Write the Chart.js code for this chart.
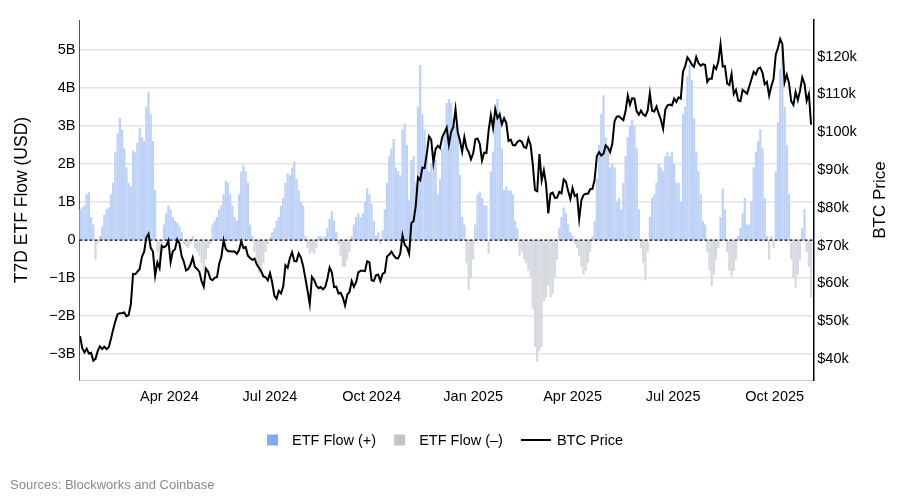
<!DOCTYPE html>
<html>
<head>
<meta charset="utf-8">
<script src="https://cdn.jsdelivr.net/npm/chart.js@4.4.1/dist/chart.umd.min.js"></script>
<style>
  html, body { margin: 0; background: #fff; }
  #wrap { width: 900px; height: 500px; }
</style>
</head>
<body>
<div id="wrap"><canvas id="etfChart" width="900" height="500"></canvas></div>
<script>
// ===== DATA =====
// one value every 2 days, starting 2024-01-11
const startDate = '2024-01-11';
const stepDays = 2;

// trailing 7-day spot BTC ETF net flow, billions USD
const flowB = [
  0.8, 0.85, 0.9, 1.2, 1.25, 0.6, 0.4, -0.5, -0.1, 0.1,
  0.35, 0.65, 0.8, 0.85, 1.2, 1.5, 2.3, 2.8, 3.2, 2.9,
  2.4, 1.9, 1.5, 1.4, 2.35, 2.3, 2.55, 2.95, 2.7, 2.6,
  3.5, 3.9, 3.3, 2.6, 1.3, -0.3, -0.6, -0.3, 0.4, 0.7,
  0.9, 0.8, 0.6, 0.5, 0.45, 0.35, 0.2, -0.1, -0.15, -0.2,
  -0.1, 0.1, -0.2, -0.3, -0.4, -0.6, -0.8, -0.5, -0.2, -0.1,
  0.4, 0.5, 0.6, 0.8, 0.9, 1.2, 1.55, 1.5, 1.2, 0.9,
  0.6, 0.5, 1.2, 1.8, 1.95, 1.8, 1.5, 0.4, 0.1, -0.3,
  -0.6, -0.85, -0.88, -0.6, -0.3, -0.1, 0.05, 0.2, 0.3, 0.5,
  0.6, 0.9, 1.1, 1.5, 1.75, 1.7, 1.9, 2.05, 1.6, 1.3,
  1.0, 0.9, 0.1, -0.2, -0.35, -0.3, -0.35, -0.2, 0.1, 0.1,
  0.05, 0.1, 0.3, 0.55, 0.75, 0.5, 0.2, -0.1, -0.4, -0.7,
  -0.7, -0.5, -0.3, 0.1, 0.4, 0.6, 0.7, 0.6, 0.7, 1.0,
  1.35, 1.2, 0.95, 0.5, 0.1, 0.2, -0.1, 0.25, 0.8, 1.5,
  2.2, 2.4, 2.65, 1.9, 1.8, 1.7, 2.9, 3.05, 2.5, 1.05,
  2.1, 2.2, 1.5, 3.5, 4.6, 3.3, 2.9, 2.2, 1.8, 2.0,
  2.3, 2.1, 1.2, 1.6, 2.4, 2.8, 3.6, 3.7, 3.6, 3.2,
  3.0, 2.9, 1.7, 0.6, 0.4, -0.6, -1.3, -1.0, -0.5, 0.4,
  1.2, 1.27, 1.1, 0.9, 0.9, -0.35, 1.8, 2.3, 3.2, 3.7,
  3.4, 2.4, 1.3, 1.4, 1.3, 1.3, 1.2, 0.5, 0.3, -0.4,
  -0.3, -0.5, -0.6, -0.8, -1.0, -1.8, -2.8, -3.2, -2.9, -2.8,
  -1.6, -1.5, -1.2, -1.5, -1.4, -1.0, -0.5, 0.3, 0.6, 0.85,
  0.7, 0.4, 0.2, 0.1, -0.1, -0.2, -0.4, -0.7, -0.9, -0.8,
  -0.6, -0.3, 0.1, 0.5, 1.6, 2.5, 3.3, 3.8, 2.7, 2.4,
  1.9, 2.0, 1.9, 1.0, 1.1, 0.8, 1.5, 2.2, 2.7, 3.0,
  3.15, 3.0, 2.4, 0.8, -0.2, -0.6, -1.05, -0.3, 0.6, 1.1,
  1.2, 1.5, 2.0, 1.9, 1.8, 2.2, 2.3, 2.2, 2.3, 2.0,
  1.5, 1.5, 1.0, 3.3, 3.5, 4.3, 4.6, 4.2, 3.2, 2.3,
  1.8, 1.2, 0.5, 0.4, -0.3, -0.8, -1.2, -0.9, -0.5, -0.2,
  0.6, 1.35, 0.8, -0.3, -0.8, -0.95, -0.8, -0.5, 0.1, 0.3,
  0.7, 1.1, 0.4, 0.4, 1.0, 1.9, 2.3, 2.6, 2.9, 2.4,
  1.1, 0.1, -0.5, 0.1, -0.2, 1.8, 3.1, 4.5, 5.0, 3.5,
  2.5, 1.2, -0.5, -1.0, -1.25, -0.9, -0.5, 0.3, 0.8, -0.3,
  -0.7, -1.5
];

// BTC close, thousands USD
const priceK = [
  46.0, 42.8, 41.7, 42.7, 41.4, 41.6, 39.5, 40.0, 42.1, 43.3,
  42.6, 43.2, 42.6, 43.1, 45.3, 47.8, 50.0, 51.8, 52.1, 52.1,
  52.3, 51.3, 51.6, 54.5, 62.5, 62.4, 63.1, 63.8, 67.0, 68.3,
  72.1, 73.1, 69.4, 68.4, 62.0, 65.5, 64.0, 69.9, 69.5, 69.9,
  71.3, 65.6, 68.5, 69.0, 71.6, 70.6, 67.2, 65.7, 63.4, 63.8,
  64.9, 66.8, 64.3, 63.8, 63.1, 60.6, 59.1, 63.9, 63.1, 61.2,
  60.8, 61.5, 61.6, 65.2, 67.0, 71.4, 69.1, 68.5, 68.5, 68.4,
  68.4, 67.8, 68.8, 71.1, 69.3, 69.6, 67.3, 66.7, 66.2, 66.5,
  65.0, 64.1, 63.2, 61.8, 61.6, 60.8, 62.7, 60.2, 56.7, 55.9,
  58.0, 57.3, 59.2, 64.8, 64.1, 66.7, 68.2, 65.9, 65.8, 67.9,
  66.8, 64.6, 61.4, 58.1, 54.5, 61.7, 60.9, 59.4, 58.7, 59.0,
  58.4, 59.0, 61.2, 64.2, 62.9, 59.0, 59.1, 57.3, 57.5, 56.2,
  54.1, 57.0, 57.7, 60.6, 59.1, 60.3, 62.9, 63.3, 63.3, 63.2,
  65.8, 65.6, 60.8, 60.6, 62.1, 62.3, 60.6, 62.5, 62.9, 67.1,
  67.6, 68.4, 67.4, 66.7, 66.6, 67.9, 72.7, 70.2, 69.5, 67.8,
  75.9, 76.5, 80.5, 88.0, 87.3, 90.6, 90.5, 94.3, 98.9, 98.0,
  91.9, 95.6, 96.4, 95.8, 98.8, 99.9, 101.2, 96.7, 100.0, 101.4,
  106.1, 100.0, 97.8, 94.8, 98.7, 95.8, 94.7, 92.8, 94.4, 98.1,
  98.3, 96.9, 92.5, 94.6, 94.5, 100.5, 104.5, 101.1, 106.1, 103.7,
  104.7, 102.1, 103.7, 102.4, 97.7, 98.0, 96.6, 96.5, 97.4, 97.8,
  97.5, 96.1, 95.8, 98.3, 96.6, 91.4, 84.7, 84.4, 94.2, 87.2,
  89.9, 86.2, 78.5, 83.7, 84.0, 82.6, 82.7, 84.2, 83.8, 87.5,
  86.9, 84.4, 82.3, 85.2, 83.1, 83.5, 77.0, 82.0, 83.4, 83.7,
  83.7, 84.9, 85.0, 87.5, 93.7, 94.7, 93.8, 94.3, 96.5, 95.9,
  94.7, 97.0, 102.9, 104.1, 104.2, 103.7, 103.2, 105.6, 109.7, 107.3,
  109.0, 108.9, 105.6, 104.6, 105.7, 104.7, 104.3, 105.7, 110.3, 105.7,
  105.5, 106.8, 104.9, 103.3, 100.9, 106.0, 107.1, 107.3, 107.1, 108.9,
  108.0, 109.2, 108.9, 116.0, 117.5, 119.8, 119.0, 117.9, 117.3, 119.9,
  118.3, 117.6, 118.0, 117.8, 113.3, 114.2, 114.1, 117.5, 116.7, 118.7,
  123.3, 117.4, 117.5, 112.9, 112.5, 115.4, 110.1, 111.2, 108.4, 108.2,
  111.2, 110.7, 110.2, 112.1, 114.0, 116.0, 115.3, 116.8, 117.1, 115.7,
  112.7, 113.3, 109.7, 112.2, 114.1, 120.5, 122.3, 124.7, 123.3, 113.2,
  115.2, 113.0, 108.2, 107.2, 110.6, 108.5, 111.0, 114.5, 112.9, 108.3,
  110.1, 102.0
];

const monthTicks = ['2024-04-01', '2024-07-01', '2024-10-01', '2025-01-01', '2025-04-01', '2025-07-01', '2025-10-01'];
const monthLabels = ['Apr 2024', 'Jul 2024', 'Oct 2024', 'Jan 2025', 'Apr 2025', 'Jul 2025', 'Oct 2025'];
const flowTicks = [-3, -2, -1, 0, 1, 2, 3, 4, 5];
const priceTicks = [40, 50, 60, 70, 80, 90, 100, 110, 120];

// ===== HELPERS =====
function dayOf(dateStr) {
  return (Date.parse(dateStr) - Date.parse(startDate)) / 86400000;
}
function flowLabel(v) {
  if (v === 0) return '0';
  return (v < 0 ? '\u2212' + Math.abs(v) : v) + 'B';
}

const FONT = '"Liberation Sans", Arial, Helvetica, sans-serif';
Chart.defaults.font.family = FONT;
Chart.defaults.color = '#000';

// ===== PLUGINS =====
const zeroLine = {
  id: 'zeroLine',
  beforeDatasetDraw(chart, args) {
    if (chart.data.datasets[args.index].type !== 'line') return;
    const y = chart.scales.y.getPixelForValue(0);
    const area = chart.chartArea;
    const c = chart.ctx;
    c.save();
    c.strokeStyle = '#000';
    c.lineWidth = 1.2;
    c.setLineDash([3, 2]);
    c.beginPath();
    c.moveTo(area.left, y);
    c.lineTo(area.right, y);
    c.stroke();
    c.restore();
  }
};

const decorations = {
  id: 'decorations',
  afterDraw(chart) {
    const c = chart.ctx;
    const area = chart.chartArea;
    const midY = (area.top + area.bottom) / 2;
    c.save();
    c.fillStyle = '#000';
    c.textAlign = 'center';
    c.textBaseline = 'middle';

    // axis titles
    c.font = '17.5px ' + FONT;
    c.save();
    c.translate(22, midY);
    c.rotate(-Math.PI / 2);
    c.fillText('T7D ETF Flow (USD)', 0, 0);
    c.restore();
    c.font = '17px ' + FONT;
    c.save();
    c.translate(880, midY);
    c.rotate(-Math.PI / 2);
    c.fillText('BTC Price', 0, 0);
    c.restore();

    // legend
    c.font = '14.5px ' + FONT;
    const items = chart.data.datasets.map(ds => ({
      label: ds.label,
      isLine: ds.type === 'line',
      color: ds.legendColor,
      textW: c.measureText(ds.label).width
    }));
    const markW = it => it.isLine ? 30 : 11;
    const markGap = it => it.isLine ? 6 : 14;
    const itemGap = 18;
    let total = 0;
    items.forEach((it, i) => {
      total += markW(it) + markGap(it) + it.textW + (i < items.length - 1 ? itemGap : 0);
    });
    let x = 445 - total / 2;
    const ly = 440;
    c.textAlign = 'left';
    items.forEach(it => {
      if (it.isLine) {
        c.strokeStyle = it.color;
        c.lineWidth = 2;
        c.beginPath();
        c.moveTo(x, ly);
        c.lineTo(x + 30, ly);
        c.stroke();
      } else {
        c.fillStyle = it.color;
        c.fillRect(x, ly - 5.5, 11, 11);
      }
      x += markW(it) + markGap(it);
      c.fillStyle = '#000';
      c.fillText(it.label, x, ly + 0.5);
      x += it.textW + itemGap;
    });

    // source note
    c.font = '13px ' + FONT;
    c.fillStyle = '#8a8a8a';
    c.fillText('Sources: Blockworks and Coinbase', 10, 485);
    c.restore();
  }
};

// ===== CHART =====
const tickFont = { size: 14.5, family: FONT };

new Chart(document.getElementById('etfChart'), {
  type: 'bar',
  data: {
    datasets: [
      {
        label: 'ETF Flow (+)',
        data: flowB.map((v, i) => ({ x: i * stepDays, y: v >= 0 ? v : null })),
        backgroundColor: '#bed2f8',
        legendColor: '#80a8f8',
        yAxisID: 'y',
        grouped: false,
        barThickness: 1.6,
        order: 2
      },
      {
        label: 'ETF Flow (\u2013)',
        data: flowB.map((v, i) => ({ x: i * stepDays, y: v < 0 ? v : null })),
        backgroundColor: '#d6d9df',
        legendColor: '#c4c4c4',
        yAxisID: 'y',
        grouped: false,
        barThickness: 1.6,
        order: 1
      },
      {
        type: 'line',
        label: 'BTC Price',
        data: priceK.map((v, i) => ({ x: i * stepDays, y: v })),
        borderColor: '#000',
        legendColor: '#000',
        borderWidth: 2,
        pointRadius: 0,
        tension: 0,
        yAxisID: 'y1',
        order: 0
      }
    ]
  },
  options: {
    responsive: false,
    animation: false,
    layout: { padding: { top: 20, left: 0, right: 0, bottom: 0 } },
    plugins: { legend: { display: false }, tooltip: { enabled: false } },
    scales: {
      x: {
        type: 'linear',
        offset: false,
        min: -0.5,
        max: 664,
        grid: { display: false, drawTicks: false, offset: false },
        border: { display: true, color: '#c8c8c8', width: 1 },
        ticks: {
          font: tickFont,
          padding: 8,
          maxRotation: 0,
          autoSkip: false,
          callback: (v, i) => monthLabels[i]
        },
        afterBuildTicks: s => { s.ticks = monthTicks.map(d => ({ value: dayOf(d) })); },
        afterFit: s => { s.height = 120; }
      },
      y: {
        position: 'left',
        min: -3.68,
        max: 5.79,
        grid: {
          color: ctx => ctx.tick && ctx.tick.value === 0 ? 'rgba(0,0,0,0)' : '#e4e4e4',
          lineWidth: 1.5,
          drawTicks: false
        },
        border: { display: true, color: '#555', width: 1 },
        ticks: { font: tickFont, padding: 4, callback: v => flowLabel(v) },
        afterBuildTicks: s => { s.ticks = flowTicks.map(v => ({ value: v })); },
        afterFit: s => { s.width = 79.5; }
      },
      y1: {
        position: 'right',
        min: 34.4,
        max: 129.7,
        grid: { display: false, drawTicks: false },
        border: { display: true, color: '#000', width: 1.5 },
        ticks: { font: tickFont, padding: 4, callback: v => '$' + v + 'k' },
        afterBuildTicks: s => { s.ticks = priceTicks.map(v => ({ value: v })); },
        afterFit: s => { s.width = 86.7; }
      }
    }
  },
  plugins: [zeroLine, decorations]
});
</script>
</body>
</html>
